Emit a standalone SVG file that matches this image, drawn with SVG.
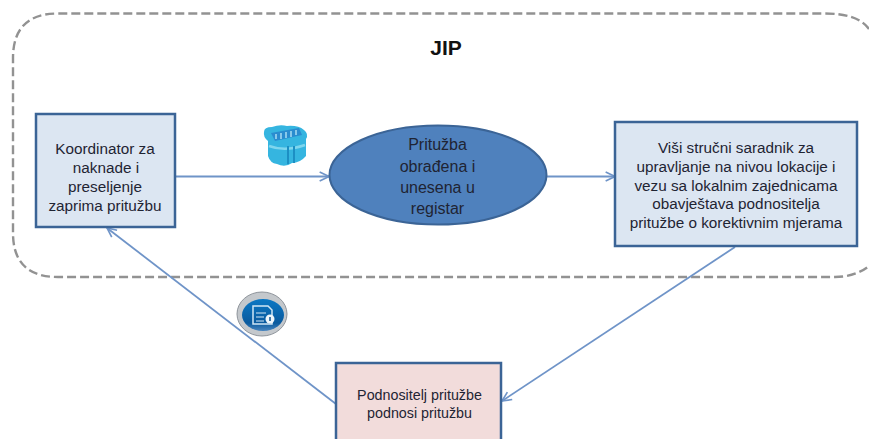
<svg xmlns="http://www.w3.org/2000/svg" width="869" height="439" viewBox="0 0 869 439">
<style>
text{font-family:"Liberation Sans",Arial,sans-serif;fill:#1f2433;text-anchor:middle}
.l{font-size:15.300px}
.e{font-size:16px}
.t{font-size:15.300px}
.b{font-size:14.300px}
.box{stroke:#3b6496;stroke-width:2.500}
.c{fill:none;stroke:#6f94c8;stroke-width:1.800;marker-end:url(#a)}
</style>
<defs>
<marker id="a" viewBox="0 0 10 10" refX="9.500" refY="5" markerWidth="11" markerHeight="11" markerUnits="userSpaceOnUse" orient="auto"><path d="M1 1L9.500 5L1 9" fill="none" stroke="#6f94c8" stroke-width="1.500"/></marker>
<linearGradient id="g" x1="0" y1="0" x2="0" y2="1"><stop offset="0" stop-color="#0b78c4"/><stop offset="0.75" stop-color="#0a5a9e"/><stop offset="1" stop-color="#4a86c0"/></linearGradient>
</defs>
<g id="boundary"><path d="M869 29Q858 13.500 825 13.500H58Q13 13.500 13 58V233Q13 277 58 277H835Q855 277 869 266" fill="none" stroke="#929292" stroke-width="2.400" stroke-dasharray="9 4"/>
<text x="446" y="55" style="font-size:21px;font-weight:bold;fill:#111">JIP</text></g>
<g id="connectors">
<path class="c" d="M176 176.500H329"/>
<path class="c" d="M547 176.500H615"/>
<path class="c" d="M735 247L502 401"/>
<path class="c" d="M336 404L107 228"/>
</g>
<g id="koordinator"><rect class="box" x="36" y="114" width="139" height="113" fill="#dce6f2"/>
<text class="l" x="105" y="154">Koordinator za</text><text class="l" x="106" y="173">naknade i</text><text class="l" x="105" y="192">preseljenje</text><text class="l" x="105" y="211">zaprima pritužbu</text></g>
<g id="registar"><ellipse cx="438" cy="175" rx="108.500" ry="49.500" fill="#4f81bd" stroke="#3b6496" stroke-width="2"/>
<text class="e" x="437.500" y="150">Pritužba</text><text class="e" x="437.500" y="172">obrađena i</text><text class="e" x="437.500" y="193">unesena u</text><text class="e" x="437.500" y="214">registar</text></g>
<g id="saradnik"><rect class="box" x="615" y="122" width="242" height="124" fill="#dce6f2"/>
<text class="t" x="736" y="153">Viši stručni saradnik za</text><text class="t" x="736" y="172">upravljanje na nivou lokacije i</text><text class="t" x="736" y="191">vezu sa lokalnim zajednicama</text><text class="t" x="736" y="209">obavještava podnositelja</text><text class="t" x="736" y="228">pritužbe o korektivnim mjerama</text></g>
<g id="podnositelj"><rect class="box" x="336" y="363" width="165" height="80" fill="#f2dcdb"/>
<text class="b" x="419.500" y="400">Podnositelj pritužbe</text><text class="b" x="419.500" y="418">podnosi pritužbu</text></g>
<g id="icon-baza"><path d="M264 132Q264 127 272 127Q280 124 287 126Q298 125 304 130Q309 134 306 139V156Q300 163 292 163Q285 168 277 164Q270 163 268 156V141Q263 137 264 132Z" fill="#35b5e0"/>
<path d="M269 146Q285 152 305 145" fill="none" stroke="#7fd6ee" stroke-width="2.500"/><path d="M288 146V164M294 146V163" stroke="#1c8fc4" stroke-width="2"/>
<path d="M271 133L299 128L302 135L275 141Z" fill="#2a8ccf"/><path d="M276 134V139M281 133V139M286 132V138M291 131V137M296 130V135" stroke="#a8dcf3" stroke-width="1.500"/></g>
<g id="icon-info"><ellipse cx="262" cy="314" rx="25" ry="22" fill="#c4c8cc" stroke="#8e949b" stroke-width="1"/><ellipse cx="263" cy="315" rx="21" ry="16" fill="url(#g)"/>
<path d="M253 306H268L272 310V324H253Z" fill="none" stroke="#cfe6f5" stroke-width="1.500"/><path d="M256 313H266M256 317H264M256 321H264" stroke="#cfe6f5" stroke-width="1.200"/><circle cx="270" cy="319" r="4.500" fill="#eef6fb"/><path d="M270 317V321" stroke="#0a4f8e" stroke-width="1.500"/></g>
</svg>
